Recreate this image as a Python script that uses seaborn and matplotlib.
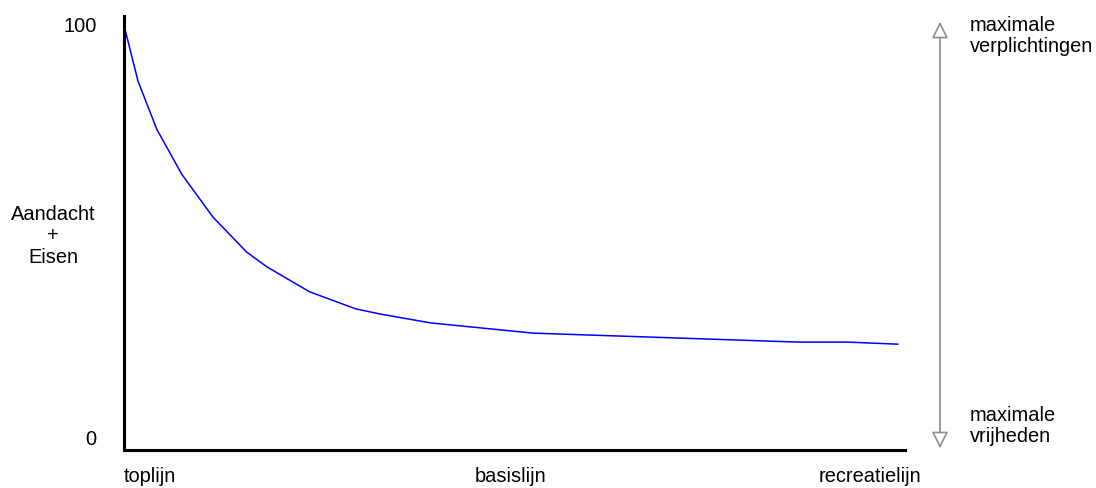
import matplotlib
matplotlib.use("Agg")
import matplotlib.pyplot as plt
from matplotlib.patches import FancyArrowPatch
import seaborn as sns
import pandas as pd

# ------------------------------------------ DATA ------------------------------------------------------------#
x_vals = [0, 1.8, 4.2, 7.4, 11.4, 15.7, 18.3, 23.8, 29.7, 32.8, 39.3, 52.4, 86.2, 92.6, 99.1]
y_vals = [100, 86.8, 75.5, 64.9, 54.8, 46.6, 43.1, 37.2, 33.2, 32.0, 29.9, 27.5, 25.4, 25.4, 24.9]
x_labels = ['toplijn', 'basislijn', 'recreatielijn']
x_label_pos = [0, 49.5, 95.5]
y_label = 'Aandacht\n+\nEisen'
top_text = 'maximale\nverplichtingen'
bottom_text = 'maximale\nvrijheden'

df = pd.DataFrame({'x': x_vals, 'y': y_vals})

# ------------------------------------------ PLOT ------------------------------------------------------------#
sns.set_style('white')
plt.rcParams['font.family'] = ['Liberation Sans', 'DejaVu Sans']
plt.rcParams['text.color'] = 'black'

fig = plt.figure(figsize=(10.96, 4.89), dpi=100)
ax = fig.add_axes([0.1131, 0.0777, 0.7126, 0.8873])

sns.lineplot(data=df, x='x', y='y', ax=ax, color='#0000ff', linewidth=1.1)

ax.set_xlim(0, 100)
ax.set_ylim(0, 102.1)
ax.set_xticks([])
ax.set_yticks([])
ax.set_xlabel('')
ax.set_ylabel('')
for s in ['top', 'right']:
    ax.spines[s].set_visible(False)
for s in ['left', 'bottom']:
    ax.spines[s].set_color('black')
    ax.spines[s].set_linewidth(2.2)

fs = 14.4
# y "tick" labels
ax.text(-3.5, 100, '100', ha='right', va='center', fontsize=fs, clip_on=False)
ax.text(-3.5, 2.6, '0', ha='right', va='center', fontsize=fs, clip_on=False)

# x labels
has = ['left', 'center', 'center']
for lab, pos, ha in zip(x_labels, x_label_pos, has):
    ax.text(pos, -6, lab, ha=ha, va='center', fontsize=fs, clip_on=False)

fig.text(53 / 1096, 1 - 236 / 489, y_label, ha='center', va='center', fontsize=fs,
         linespacing=1.19)

# arrow on the right
arr = FancyArrowPatch((940 / 1096, 1 - 452 / 489), (940 / 1096, 1 - 20 / 489),
                      transform=fig.transFigure, arrowstyle='<|-|>,head_length=0.5,head_width=0.25',
                      mutation_scale=20, facecolor='white', edgecolor='#8c8c8c', linewidth=1.2)
fig.patches.append(arr)

fig.text(970 / 1096, 1 - 36 / 489, top_text, ha='left', va='center', fontsize=fs,
         linespacing=1.1)
fig.text(970 / 1096, 1 - 426 / 489, bottom_text, ha='left', va='center', fontsize=fs,
         linespacing=1.1)

plt.savefig('out.png', dpi=100)
